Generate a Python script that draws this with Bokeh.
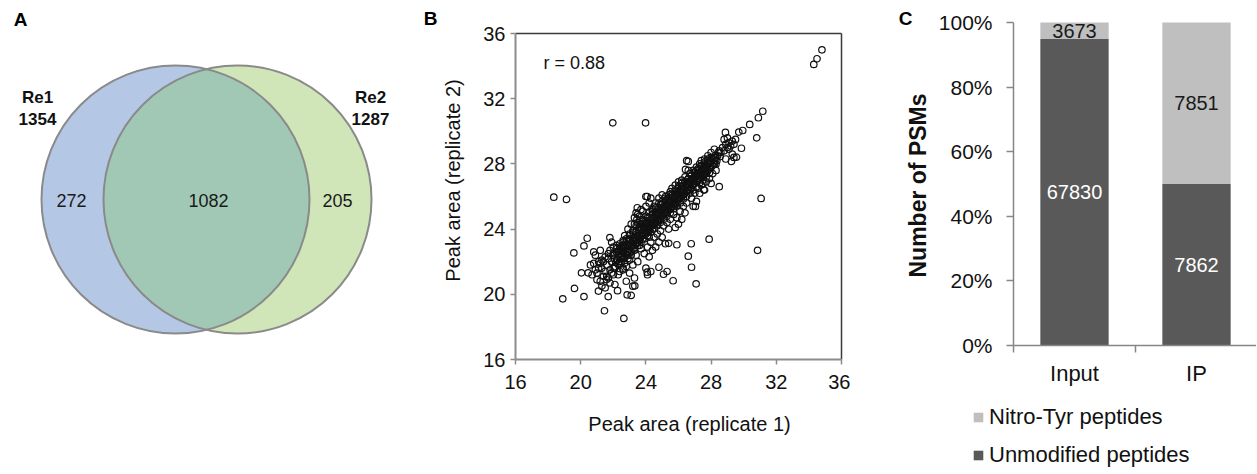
import numpy as np
from bokeh.plotting import figure
from bokeh.layouts import row
from bokeh.models import (Range1d, FixedTicker, Legend, LegendItem,
                          NumeralTickFormatter, ColumnDataSource)
from bokeh.core.properties import value
from bokeh.embed import file_html
from bokeh.resources import INLINE

FONT = "Liberation Sans"

# ---------------- Panel A data (Venn) ----------------
venn_names = ["Re1", "Re2"]
venn_totals = [1354, 1287]
venn_regions = [272, 1082, 205]

# ---------------- Panel B data (scatter) ----------------
scatter_ticks = [16, 20, 24, 28, 32, 36]
r_value = 0.88
# outliers
rep1_out = [18.35, 19.13, 21.97, 23.98, 31.17, 30.9, 30.8, 31.07, 30.85, 27.88,
            28.5, 27.08, 26.8, 26.6, 26.78, 25.67, 25.08, 24.8, 25.3, 25.9,
            25.4, 22.65, 21.46, 18.9, 19.62, 20.2, 21.69, 22.85, 23.1, 19.58,
            20.2, 20.4, 20.05, 20.46, 21.09, 22.26, 23.32, 21.79, 23.47, 24.08,
            26.6, 26.43, 28.88, 29.7, 29.94, 30.37, 29.25, 29.56, 29.86, 24.08,
            27.04, 27.55, 34.3, 34.5, 34.8]
rep2_out = [25.96, 25.82, 30.52, 30.52, 31.23, 30.83, 29.6, 25.88, 22.7, 23.38,
            26.6, 20.64, 21.66, 22.34, 23.1, 20.83, 21.23, 21.66, 21.4, 23.04,
            23.13, 18.52, 18.99, 19.72, 20.36, 19.86, 19.86, 19.97, 19.93, 22.54,
            22.97, 23.44, 21.32, 21.32, 20.2, 20.22, 20.52, 23.48, 25.31, 26.0,
            28.15, 27.66, 29.93, 29.95, 30.05, 30.42, 28.15, 28.41, 28.96, 21.36,
            25.39, 26.41, 34.1, 34.45, 35.0]
# main band
rep1_band = [21.0, 21.2, 21.3, 21.1, 21.4, 21.5, 21.3, 20.8, 20.9, 21.6, 20.7, 21.2,
             21.6, 21.7, 21.8, 21.9, 22.0, 22.1, 22.2, 22.3, 21.8, 22.0, 22.4, 22.5, 21.7, 22.2, 22.4, 21.9, 22.1, 22.6, 22.3, 22.0,
             22.6, 22.7, 22.8, 22.9, 23.0, 23.1, 23.2, 23.3, 23.4, 22.7, 22.9, 23.0, 23.2, 23.4, 23.5, 22.8, 23.1, 23.3, 23.4, 23.5, 22.6, 23.0, 23.3, 23.5, 22.8, 23.2,
             23.6, 23.7, 23.8, 23.9, 24.0, 24.1, 24.2, 24.3, 24.4, 24.5, 23.6, 23.8, 24.0, 24.2, 24.3, 24.0, 23.7, 23.9, 24.1, 24.3, 24.5, 23.6, 24.2, 24.4, 24.0, 24.1, 24.3, 23.8, 24.1, 24.4, 23.7, 24.2, 24.5,
             24.6, 24.7, 24.8, 24.9, 25.0, 25.1, 25.2, 25.3, 25.4, 25.5, 24.6, 24.8, 25.0, 25.2, 24.7, 24.9, 25.1, 25.3, 25.5, 24.8, 25.0, 25.2, 24.6, 25.4, 25.5, 24.9, 25.3,
             25.6, 25.7, 25.8, 25.9, 26.0, 26.1, 26.2, 26.3, 26.4, 26.5, 25.6, 25.8, 26.0, 26.2, 26.4, 25.7, 25.9, 26.1, 26.3, 26.5, 26.0, 26.2, 25.8, 26.4, 26.6, 26.5,
             26.6, 26.7, 26.8, 26.9, 27.0, 27.1, 27.2, 27.3, 27.4, 27.5, 26.7, 26.9, 27.1, 27.3, 26.8, 27.0, 27.2, 27.4, 26.9, 27.1, 27.3, 27.5, 27.4,
             27.6, 27.7, 27.8, 27.9, 28.0, 28.1, 28.2, 28.3, 28.4, 27.6, 27.8, 28.0, 28.2, 27.7, 27.9, 28.1, 28.3, 28.0, 27.6, 28.5,
             28.6, 28.7, 28.8, 28.9, 29.0, 29.1, 29.2, 29.3, 29.4, 28.8, 29.0, 29.3, 29.1, 29.5, 29.4, 28.9]
rep2_band = [21.3, 20.8, 21.6, 22.0, 21.1, 22.3, 20.5, 21.9, 22.4, 20.9, 21.2, 22.7,
             21.8, 22.2, 21.5, 22.0, 22.4, 21.7, 22.1, 22.6, 22.7, 21.2, 21.9, 22.3, 21.0, 23.0, 22.8, 23.2, 20.6, 21.5, 21.2, 22.9,
             22.7, 22.2, 23.1, 22.6, 23.4, 22.9, 23.3, 22.7, 23.8, 23.6, 24.0, 22.1, 21.8, 22.4, 23.2, 21.7, 24.3, 24.7, 25.0, 24.4, 23.3, 21.3, 21.0, 22.0, 20.8, 20.5,
             23.6, 24.0, 23.4, 23.9, 24.3, 23.8, 24.1, 24.5, 24.0, 24.4, 24.8, 25.1, 25.4, 25.6, 25.9, 26.0, 22.8, 22.5, 22.9, 23.2, 23.5, 23.0, 22.3, 22.7, 21.6, 21.2, 21.4, 24.5, 24.7, 25.1, 24.3, 23.5, 25.4,
             24.8, 24.3, 25.0, 24.6, 25.2, 24.9, 25.4, 25.0, 25.6, 25.2, 25.6, 25.9, 26.1, 26.0, 23.7, 23.9, 24.2, 24.4, 24.6, 23.2, 23.5, 23.1, 22.9, 24.0, 26.3, 25.5, 25.8,
             25.7, 25.4, 26.0, 25.6, 26.2, 25.9, 26.4, 26.1, 26.6, 26.3, 26.5, 26.7, 26.9, 27.0, 27.2, 24.9, 24.7, 25.1, 25.4, 25.6, 24.3, 24.6, 24.1, 25.0, 27.6, 28.2,
             26.7, 26.4, 27.0, 26.7, 27.2, 26.9, 27.4, 27.1, 27.6, 27.3, 27.4, 27.6, 27.8, 28.0, 25.9, 26.2, 26.5, 26.7, 25.4, 25.7, 26.2, 26.8, 28.2,
             27.7, 27.4, 28.0, 27.7, 28.2, 27.9, 28.3, 28.0, 28.5, 28.3, 28.5, 28.7, 28.9, 26.9, 27.1, 27.4, 27.6, 26.8, 26.4, 28.8,
             28.7, 29.0, 28.8, 29.2, 29.0, 29.3, 29.1, 29.4, 29.2, 29.5, 29.6, 28.6, 28.9, 29.5, 28.4, 28.3]
# dense core
rep1_core = [22.3, 22.5, 22.7, 22.9, 23.1, 23.3, 23.5, 23.7, 23.9, 24.1, 24.3, 24.5, 24.7, 24.9, 25.1, 25.3,
             25.5, 25.7, 25.9, 26.1, 26.3, 26.5, 26.7, 26.9, 27.1, 27.3, 27.5, 27.7, 27.9, 28.1, 28.3,
             22.4, 22.6, 22.8, 23.0, 23.2, 23.4, 23.6, 23.8, 24.0, 24.2, 24.4, 24.6, 24.8, 25.0, 25.2,
             25.4, 25.6, 25.8, 26.0, 26.2, 26.4, 26.6, 26.8, 27.0, 27.2, 27.4, 27.6, 27.8, 28.0, 28.2,
             22.2, 22.4, 22.6, 22.8, 23.0, 23.2, 23.4, 23.6, 23.8, 24.0, 24.2, 24.4, 24.6, 24.8, 25.0,
             25.2, 25.4, 25.6, 25.8, 26.0, 26.2, 26.4, 26.6, 26.8, 27.0, 27.2, 27.4, 27.6, 27.8, 28.0,
             22.05, 22.15, 22.35, 22.45, 22.55, 22.65, 22.85, 22.95, 23.05, 23.15, 23.25, 23.35, 23.45, 23.55, 23.65, 23.75,
             23.85, 23.95, 24.05, 24.15, 24.25, 24.35, 24.45, 24.55, 24.65, 24.75, 24.85, 24.95, 25.05, 25.15, 25.25, 25.35,
             25.45, 25.55, 25.65, 25.75, 25.85, 25.95, 26.05, 26.15, 26.25, 26.35, 26.45, 26.55, 26.65, 26.75, 26.85, 26.95,
             27.05, 27.15, 27.25, 27.35, 27.45, 27.55, 27.65, 27.75, 27.85, 27.95, 28.05, 28.15, 28.25, 28.35, 28.45, 28.55,
             22.1, 22.3, 22.5, 22.7, 22.9, 23.1, 23.3, 23.5, 23.7, 23.9, 24.1, 24.3, 24.5, 24.7, 24.9,
             25.1, 25.3, 25.5, 25.7, 25.9, 26.1, 26.3, 26.5, 26.7, 26.9, 27.1, 27.3, 27.5, 27.7, 27.9,
             22.0, 22.2, 22.4, 22.6, 22.8, 23.0, 23.2, 23.4, 23.6, 23.8, 24.0, 24.2, 24.4, 24.6, 24.8,
             25.0, 25.2, 25.4, 25.6, 25.8, 26.0, 26.2, 26.4, 26.6, 26.8, 27.0, 27.2, 27.4, 27.6, 27.8,
             20.6, 20.9, 21.0, 21.3, 21.5, 21.7, 21.9, 20.8, 21.1, 21.4, 21.6, 21.8, 22.0, 21.2, 21.5,
             22.25, 22.45, 22.75, 22.95, 23.25, 23.45, 23.65, 23.85, 24.05, 24.25, 24.45, 24.65, 24.85, 25.05, 25.25,
             25.45, 25.65, 25.85, 26.05, 26.25, 26.45, 26.65, 26.85, 27.05, 27.25, 27.45, 27.65, 27.85, 28.05, 28.25,
             23.3, 23.5, 23.7, 23.45, 23.6, 22.7, 22.9, 23.1, 22.6, 22.4]
rep2_core = [22.4, 22.5, 22.9, 23.0, 23.1, 23.5, 23.6, 23.7, 24.1, 24.2, 24.3, 24.7, 24.8, 25.1, 25.3, 25.4,
             25.7, 25.8, 26.1, 26.3, 26.4, 26.7, 26.9, 27.1, 27.3, 27.4, 27.7, 27.9, 28.1, 28.3, 28.4,
             22.0, 22.2, 22.4, 22.6, 22.8, 23.1, 23.3, 23.6, 23.7, 23.9, 24.2, 24.4, 24.5, 24.8, 25.0,
             25.2, 25.4, 25.5, 25.8, 26.0, 26.2, 26.4, 26.5, 26.8, 27.0, 27.2, 27.4, 27.6, 27.8, 28.0,
             22.6, 23.1, 23.0, 23.4, 23.7, 23.9, 24.2, 24.3, 24.6, 24.8, 25.0, 25.2, 25.3, 25.6, 25.7,
             25.9, 26.1, 26.2, 26.4, 26.6, 26.8, 26.9, 27.1, 27.3, 27.5, 27.6, 27.9, 28.0, 28.2, 28.4,
             22.2, 21.95, 22.65, 22.35, 22.6, 22.9, 22.6, 23.05, 23.35, 22.95, 23.45, 23.3, 23.7, 23.4, 23.9, 23.6,
             24.15, 23.8, 24.35, 24.0, 24.55, 24.2, 24.65, 24.3, 24.95, 24.6, 25.15, 24.8, 25.35, 25.0, 25.55, 25.2,
             25.75, 25.35, 25.95, 25.6, 26.1, 25.8, 26.35, 25.95, 26.5, 26.2, 26.75, 26.4, 26.9, 26.55, 27.1, 26.8,
             27.35, 27.0, 27.5, 27.2, 27.75, 27.35, 27.9, 27.55, 28.1, 27.8, 28.35, 28.0, 28.5, 28.2, 28.7, 28.45,
             21.6, 21.85, 22.0, 22.3, 22.4, 22.6, 22.85, 23.0, 23.2, 23.4, 23.6, 23.8, 24.0, 24.2, 24.4,
             24.6, 24.8, 25.0, 25.25, 25.4, 25.6, 25.85, 26.0, 26.2, 26.4, 26.6, 26.85, 27.0, 27.2, 27.45,
             22.5, 22.8, 22.9, 23.2, 23.3, 23.6, 23.8, 23.9, 24.1, 24.35, 24.5, 24.7, 24.9, 25.05, 25.3,
             25.5, 25.65, 25.9, 26.05, 26.3, 26.5, 26.65, 26.9, 27.05, 27.3, 27.45, 27.7, 27.85, 28.1, 28.3,
             21.8, 21.5, 20.9, 22.1, 21.4, 22.5, 21.3, 22.6, 21.6, 22.0, 21.1, 20.7, 21.6, 21.9, 20.4,
             22.1, 22.7, 22.5, 23.25, 23.0, 23.55, 23.45, 24.0, 23.9, 24.4, 24.3, 24.8, 24.7, 25.2, 25.1,
             25.6, 25.5, 26.0, 25.9, 26.4, 26.3, 26.8, 26.7, 27.2, 27.1, 27.6, 27.5, 28.0, 27.9, 28.4,
             24.3, 24.9, 25.2, 24.6, 24.1, 21.9, 22.2, 22.4, 21.6, 21.4]

# ---------------- Panel C data (stacked %) ----------------
groups = ["Input", "IP"]
unmodified = [67830, 7862]
nitro_tyr = [3673, 7851]
series_names = ["Nitro-Tyr peptides", "Unmodified peptides"]
pct_ticks = [0, 0.2, 0.4, 0.6, 0.8, 1.0]

# ---------------- layout (page pixels) ----------------
H = 473
A_X0, A_X1 = 0, 420
B_X0, B_X1 = 420, 850
C_X0, C_X1 = 850, 1256


def span(p_a, v_a, p_b, v_b, lo, hi):
    """Range whose values at pixels p_a/p_b are v_a/v_b, extended to pixels lo..hi."""
    k = (v_b - v_a) / (p_b - p_a)
    return Range1d(v_a + (lo - p_a) * k, v_a + (hi - p_a) * k)


def make_fig(w, xr, yr):
    f = figure(width=w, height=H, x_range=xr, y_range=yr, output_backend="svg",
               toolbar_location=None, min_border_left=0, min_border_right=0,
               min_border_top=0, min_border_bottom=0)
    f.grid.visible = False
    f.outline_line_color = None
    return f


def txt(f, x, y, t, size, color="#111111", bold=False, align="center", angle=0.0):
    f.text(x=x, y=y, text=t, text_font=value(FONT), text_font_size=size,
           text_font_style="bold" if bold else "normal", text_color=color,
           text_align=align, text_baseline="middle", angle=angle)


# ============ Panel A ============
BLUE, GREEN, OVER, EDGE = "#b4c7e5", "#d0e6b8", "#a1c8b5", "#8a8a8a"
pa = make_fig(A_X1 - A_X0, Range1d(A_X0, A_X1), Range1d(H, 0))
pa.axis.visible = False

cx1, cx2, cy, rad = 175.0, 237.0, 199.0, 134.0
pa.circle(x=[cx1], y=[cy], radius=rad, fill_color=BLUE, line_color=None)
pa.circle(x=[cx2], y=[cy], radius=rad, fill_color=GREEN, line_color=None)
half = (cx2 - cx1) / 2
theta = np.arccos(half / rad)
t1 = np.linspace(-theta, theta, 120)
t2 = np.linspace(np.pi - theta, np.pi + theta, 120)
lens_x = np.concatenate([cx1 + rad * np.cos(t1), cx2 + rad * np.cos(t2)])
lens_y = np.concatenate([cy + rad * np.sin(t1), cy + rad * np.sin(t2)])
pa.patch(lens_x, lens_y, fill_color=OVER, line_color=None)
pa.circle(x=[cx1, cx2], y=[cy, cy], radius=rad, fill_color=None, line_color=EDGE, line_width=2)

txt(pa, [71, 208, 337], [200, 200, 200], [str(v) for v in venn_regions], "18px", "#1a1a1a")
txt(pa, [37, 370], [97, 97], venn_names, "17px", bold=True)
txt(pa, [37, 370], [118, 118], [str(v) for v in venn_totals], "17px", bold=True)
txt(pa, [20], [19], ["A"], "19px", "#000000", bold=True)

# ============ Panel B ============
AX = "#8c8c8c"
pb = make_fig(B_X1 - B_X0, span(515, 16, 841, 36, B_X0, B_X1), span(359, 16, 33, 36, H, 0))
rep1 = rep1_out + rep1_band + rep1_core
rep2 = rep2_out + rep2_band + rep2_core
pb.scatter(rep1, rep2, marker="circle", size=6.5, fill_color=None,
           line_color="#111111", line_width=1.2)
lo_t, hi_t = scatter_ticks[0], scatter_ticks[-1]
pb.segment(x0=[lo_t, hi_t], y0=[hi_t, lo_t], x1=[hi_t, hi_t], y1=[hi_t, hi_t],
           line_color="#3a3a3a", line_width=1.5)
for ax in (pb.xaxis[0], pb.yaxis[0]):
    ax.fixed_location = lo_t
    ax.bounds = (lo_t, hi_t)
    ax.ticker = FixedTicker(ticks=scatter_ticks)
    ax.minor_tick_line_color = None
    ax.major_tick_in = 0
    ax.major_tick_out = 5
    ax.major_tick_line_color = AX
    ax.major_tick_line_width = 1.5
    ax.axis_line_color = AX
    ax.axis_line_width = 2
    ax.major_label_text_font = FONT
    ax.major_label_text_font_size = "20px"
    ax.major_label_text_color = "#111111"
pb.xaxis.major_label_standoff = 10
pb.yaxis.major_label_standoff = 5
kx = (36 - 16) / (841 - 515)
ky = (36 - 16) / (33 - 359)
txt(pb, [16 + (689 - 515) * kx], [16 + (423 - 359) * ky], ["Peak area (replicate 1)"], "20px")
txt(pb, [16 + (452 - 515) * kx], [16 + (180 - 359) * ky], ["Peak area (replicate 2)"], "20px",
    angle=np.pi / 2)
txt(pb, [16 + (543 - 515) * kx], [16 + (62 - 359) * ky], ["r = %.2f" % r_value], "18px",
    align="left")
txt(pb, [16 + (430 - 515) * kx], [16 + (18 - 359) * ky], ["B"], "19px", "#000000", bold=True)

# ============ Panel C ============
DARK, LIGHT = "#595959", "#bfbfbf"
totals = [u + n for u, n in zip(unmodified, nitro_tyr)]
unmod_share = [u / t for u, t in zip(unmodified, totals)]
nitro_share = [n / t for n, t in zip(nitro_tyr, totals)]
xpos = [0.5, 1.5]
src = ColumnDataSource(dict(x=xpos, unmod=unmod_share, nitro=nitro_share))

pc = make_fig(C_X1 - C_X0, span(1013, 0, 1135, 1, C_X0, C_X1), span(345, 0, 22, 1, H, 0))
rends = pc.vbar_stack(["unmod", "nitro"], x="x", width=0.56, color=[DARK, LIGHT],
                      line_color=None, source=src)

lab_x, lab_y, lab_t, lab_c = [], [], [], []
for i in range(len(groups)):
    lab_x += [xpos[i], xpos[i]]
    lab_y += [unmod_share[i] / 2, unmod_share[i] + nitro_share[i] / 2]
    lab_t += [str(unmodified[i]), str(nitro_tyr[i])]
    lab_c += ["#ffffff", "#1a1a1a"]
pc.text(x=lab_x, y=lab_y, text=lab_t, text_color=lab_c, text_font=value(FONT),
        text_font_size="20px", text_align="center", text_baseline="middle")

CAX = "#868686"
ya = pc.yaxis[0]
ya.fixed_location = 0
ya.bounds = (0, 1)
ya.ticker = FixedTicker(ticks=pct_ticks)
ya.formatter = NumeralTickFormatter(format="0%")
ya.minor_tick_line_color = None
ya.major_tick_in = 0
ya.major_tick_out = 7
ya.major_tick_line_color = CAX
ya.major_tick_line_width = 1.5
ya.axis_line_color = CAX
ya.axis_line_width = 1.5
ya.major_label_text_font = FONT
ya.major_label_text_font_size = "21px"
ya.major_label_text_color = "#111111"
ya.major_label_standoff = 14

xa = pc.xaxis[0]
xa.fixed_location = 0
xa.bounds = (0, 2)
xa.ticker = FixedTicker(ticks=xpos, minor_ticks=[0, 1, 2])
xa.major_label_overrides = {xpos[i]: groups[i] for i in range(len(groups))}
xa.major_tick_line_color = None
xa.major_tick_out = 0
xa.major_tick_in = 0
xa.minor_tick_in = 0
xa.minor_tick_out = 7
xa.minor_tick_line_color = CAX
xa.minor_tick_line_width = 1.5
xa.axis_line_color = CAX
xa.axis_line_width = 1.5
xa.major_label_text_font = FONT
xa.major_label_text_font_size = "22px"
xa.major_label_text_color = "#111111"
xa.major_label_standoff = 8

kcx = 1 / 122
kcy = 1 / (22 - 345)
txt(pc, [(917 - 1013) * kcx], [(185 - 345) * kcy], ["Number of PSMs"], "23px", bold=True,
    angle=np.pi / 2)
txt(pc, [(905 - 1013) * kcx], [(18 - 345) * kcy], ["C"], "19px", "#000000", bold=True)

legend = Legend(items=[LegendItem(label=series_names[0], renderers=[rends[1]]),
                       LegendItem(label=series_names[1], renderers=[rends[0]])],
                location=(122, 5), orientation="vertical")
legend.label_text_font = FONT
legend.label_text_font_size = "22px"
legend.label_text_color = "#111111"
legend.glyph_width = 12
legend.glyph_height = 12
legend.label_standoff = 5
legend.spacing = 12
legend.padding = 0
legend.margin = 0
legend.border_line_color = None
legend.background_fill_color = None
legend.background_fill_alpha = 0
pc.add_layout(legend, "center")

layout = row(pa, pb, pc)
open("out.html", "w").write(file_html(layout, INLINE))
